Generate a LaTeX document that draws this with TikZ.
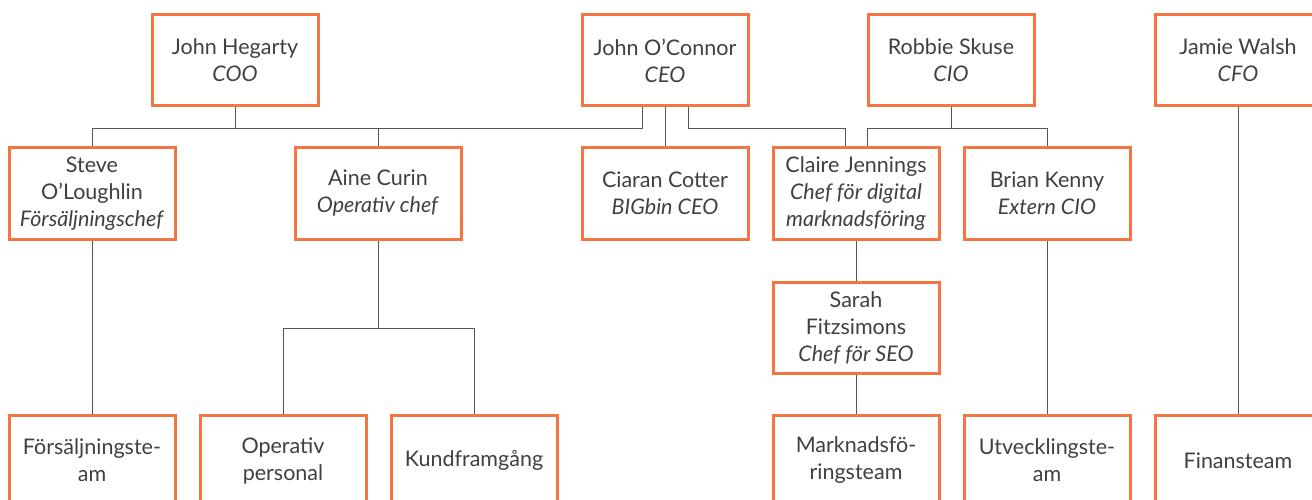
\documentclass[tikz,border=0pt]{standalone}
\usepackage{fontspec}
\setmainfont{Lato}
\usetikzlibrary{positioning,calc,backgrounds}
\definecolor{boxorange}{RGB}{242,117,66}
\definecolor{textgray}{RGB}{64,64,64}
\definecolor{linegray}{RGB}{85,85,85}

\tikzset{
  person/.style={rectangle, draw=boxorange, line width=3pt, fill=white,
    minimum width=166pt, minimum height=91pt, inner sep=2pt, align=center,
    text=textgray, font=\fontsize{21.5}{27}\selectfont},
  link/.style={draw=linegray, line width=1pt}
}

\begin{document}
\begin{tikzpicture}[x=1pt, y=-1pt]
\clip (0,0) rectangle (1312,500);

% top row
\node[person] (hegarty) at (235,60.5) {John Hegarty\\\textit{COO}};
\node[person] (oconnor) at (665,60.5) {John O'Connor\\\textit{CEO}};
\node[person] (skuse) at (951,60.5) {Robbie Skuse\\\textit{CIO}};
\node[person] (walsh) at (1238,60.5) {Jamie Walsh\\\textit{CFO}};

% second row
\node[person] (steve) at (92,193.5) {Steve\\O'Loughlin\\\textit{Försäljningschef}};
\node[person] (aine) at (378,193.5) {Aine Curin\\\textit{Operativ chef}};
\node[person] (cotter) at (665,193.5) {Ciaran Cotter\\\textit{BIGbin CEO}};
\node[person] (claire) at (856,193.5) {Claire Jennings\\\textit{Chef för digital}\\\textit{marknadsföring}};
\node[person] (kenny) at (1047,193.5) {Brian Kenny\\\textit{Extern CIO}};

\node[person] (sarah) at (856,327.5) {Sarah\\Fitzsimons\\\textit{Chef för SEO}};

% teams
\node[person] (saljteam) at (92,460.5) {Försäljningste-\\am};
\node[person] (optpers) at (283,460.5) {Operativ\\personal};
\node[person] (kundfr) at (474,460.5) {Kundframgång};
\node[person] (markteam) at (856,460.5) {Marknadsfö-\\ringsteam};
\node[person] (utvteam) at (1047,460.5) {Utvecklingste-\\am};
\node[person] (finteam) at (1238,460.5) {Finansteam};

\begin{scope}[on background layer]
\draw[link] (hegarty.south) -- ++(0,21) -| (steve.north);
\draw[link] (hegarty.south) ++(0,21) -| (aine.north);
\draw[link] ($(oconnor.south)+(-23,0)$) -- ++(0,21) -| (aine.north);
\draw[link] (oconnor) -- (cotter);
\draw[link] ($(oconnor.south)+(23,0)$) -- ++(0,21) -| ($(claire.north)+(-11,0)$);
\draw[link] (skuse.south) -- ++(0,21) -| ($(claire.north)+(11,0)$);
\draw[link] (skuse.south) -- ++(0,21) -| (kenny.north);
\draw[link] (aine.south) -- ++(0,88) -| (optpers.north);
\draw[link] (aine.south) ++(0,88) -| (kundfr.north);
\draw[link] (steve) -- (saljteam);
\draw[link] (claire) -- (sarah);
\draw[link] (sarah) -- (markteam);
\draw[link] (kenny) -- (utvteam);
\draw[link] (walsh) -- (finteam);
\end{scope}

\end{tikzpicture}
\end{document}
